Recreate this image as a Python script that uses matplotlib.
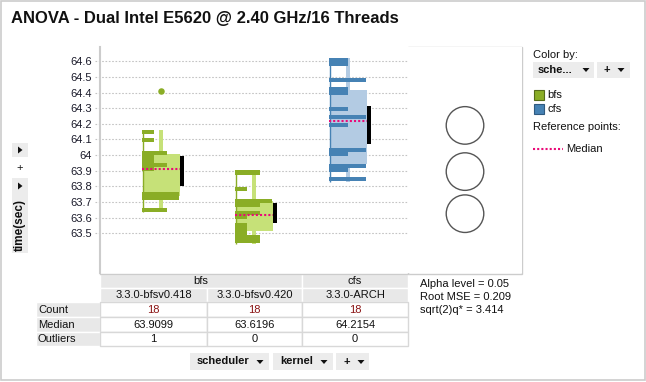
import matplotlib
matplotlib.use("Agg")
import matplotlib.pyplot as plt
from matplotlib.patches import Rectangle, Ellipse, Polygon
import numpy as np

plt.rcParams['font.family'] = ['Liberation Sans', 'DejaVu Sans']

W, H = 646, 382

title = "ANOVA - Dual Intel E5620 @ 2.40 GHz/16 Threads"
schedulers = ["bfs", "bfs", "cfs"]
kernels = ["3.3.0-bfsv0.418", "3.3.0-bfsv0.420", "3.3.0-ARCH"]
counts = [18, 18, 18]
medians = [63.9099, 63.6196, 64.2154]
n_outliers = [1, 0, 0]
outliers = [[64.408], [], []]

# histogram: bin centres and counts per kernel
hist_values = [
    [64.148, 64.097, 64.014, 63.989, 63.963, 63.937, 63.912, 63.752, 63.727, 63.650],
    [63.889, 63.784, 63.707, 63.682, 63.631, 63.605, 63.554, 63.528, 63.503, 63.477, 63.452],
    [64.608, 64.583, 64.481, 64.423, 64.397, 64.295, 64.244, 64.193, 64.033, 64.008,
     63.931, 63.905, 63.848],
]
hist_counts = [
    [1, 1, 2, 1, 1, 2, 1, 3, 3, 2],
    [2, 1, 3, 2, 2, 1, 1, 1, 1, 2, 2],
    [1, 1, 2, 1, 1, 1, 2, 1, 2, 1, 2, 1, 2],
]
bin_width = 0.0265
q1 = [63.739, 63.516, 63.944]
q3 = [64.008, 63.707, 64.417]
whisk_lo = [63.637, 63.433, 63.829]
whisk_hi = [64.161, 63.905, 64.621]
ci_lo = [63.803, 63.567, 64.072]
ci_hi = [63.995, 63.695, 64.314]
circle_centers = [63.895, 63.626, 64.19]
circle_radius = [0.12, 0.12, 0.12]
alpha_level = 0.05
root_mse = 0.209
q_star = 3.414
yticks = [63.5, 63.6, 63.7, 63.8, 63.9, 64.0, 64.1, 64.2, 64.3, 64.4, 64.5, 64.6]
ytick_labels = ["63.5", "63.6", "63.7", "63.8", "63.9", "64", "64.1", "64.2", "64.3", "64.4", "64.5", "64.6"]

dark = {"bfs": "#8aad26", "cfs": "#4682b4"}
light = {"bfs": "#c6e178", "cfs": "#b3cbe3"}
median_col = "#ea0a78"
edge = "#cccccc"
fs = 8

group_left = [42, 135, 229]   # layout, px from plot left
ylim = (63.247, 64.691)


def fr(x0, y0, x1, y1):
    return [x0 / W, 1 - y1 / H, (x1 - x0) / W, (y1 - y0) / H]


fig = plt.figure(figsize=(W / 100, H / 100), dpi=100)

# background canvas in pixel coords
bg = fig.add_axes([0, 0, 1, 1], zorder=-1)
bg.set_xlim(0, W)
bg.set_ylim(H, 0)
bg.axis("off")
bg.add_patch(Rectangle((0.5, 0.5), W - 2, H - 2.5, fill=False, ec=edge, lw=1.2))

bg.text(11, 18, title, fontsize=12, fontweight="bold", va="center", color="#111111")


def tri_right(x, y):
    bg.add_patch(Polygon([(x - 2, y - 3.5), (x - 2, y + 3.5), (x + 2.5, y)], color="#111111", lw=0))


def tri_down(x, y):
    bg.add_patch(Polygon([(x - 3.5, y - 2), (x + 3.5, y - 2), (x, y + 2)], color="#111111", lw=0))


# left controls
bg.add_patch(Rectangle((12, 143), 16, 14, color="#ececec", lw=0))
tri_right(20, 150)
bg.text(20, 168, "+", fontsize=fs, ha="center", va="center", color="#111111")
bg.add_patch(Rectangle((12, 178), 16, 75, color="#ececec", lw=0))
tri_right(20, 186)
bg.text(20, 225, "time(sec)", fontsize=8.5, fontweight="bold", rotation=90,
        ha="center", va="center", color="#111111")

# main plot
ax = fig.add_axes(fr(100, 47, 408, 273))
ax.set_xlim(0, 308)
ax.set_ylim(*ylim)
for s in ["top", "right", "bottom"]:
    ax.spines[s].set_visible(False)
ax.spines["left"].set_color(edge)
ax.spines["left"].set_linewidth(1.5)
ax.set_xticks([])
ax.set_yticks(yticks)
ax.set_yticklabels(ytick_labels)
ax.tick_params(axis="y", length=0, pad=6, labelsize=fs, labelcolor="#1a1a2a")
ax.hlines(yticks, -5, 308, colors="#c4c4c4", linestyles=(0, (1.5, 1.5)), lw=0.8,
          clip_on=False, zorder=0)

for i in range(3):
    gl = group_left[i]
    sch = schedulers[i]
    scale = 37 / max(hist_counts[i])
    ax.add_patch(Rectangle((gl + 17, whisk_lo[i]), 4, whisk_hi[i] - whisk_lo[i],
                           color=light[sch], lw=0, zorder=2, antialiased=False))
    ax.add_patch(Rectangle((gl + 1, q1[i]), 37, q3[i] - q1[i], color=light[sch], lw=0, zorder=2,
                           antialiased=False))
    ax.barh(hist_values[i], np.array(hist_counts[i]) * scale, height=bin_width, left=gl,
            color=dark[sch], lw=0, zorder=3, antialiased=False)
    ax.vlines(gl + 0.5, whisk_lo[i], whisk_hi[i], color=dark[sch], lw=1, zorder=3)
    ax.add_patch(Rectangle((gl + 38, ci_lo[i]), 4, ci_hi[i] - ci_lo[i], color="black", lw=0, zorder=3,
                           antialiased=False))
    ax.hlines(medians[i], gl, gl + 38, color=median_col, lw=1.5, linestyles=(0, (1, 1)), zorder=4)
    if outliers[i]:
        ax.scatter([gl + 19] * len(outliers[i]), outliers[i], s=22, color=dark[sch], lw=0, zorder=4)

# comparison circles
axc = fig.add_axes(fr(408, 47, 522, 273))
axc.set_xlim(0, 1)
axc.set_ylim(*ylim)
axc.set_xticks([])
axc.set_yticks([])
for s in axc.spines.values():
    s.set_visible(False)
ratio = (226 / (ylim[1] - ylim[0])) / 114
for c, r in zip(circle_centers, circle_radius):
    axc.add_patch(Ellipse((0.5, c), 2 * r * ratio, 2 * r, fill=False, ec="#555555", lw=1))
bg.add_patch(Rectangle((408, 47), 114, 227, fill=False, ec=edge, lw=1))

# right panel
bg.text(533, 55, "Color by:", fontsize=fs, va="center", color="#111111")
bg.add_patch(Rectangle((533, 62), 61, 16, color="#ececec", lw=0))
bg.text(538, 70, "sche...", fontsize=fs, fontweight="bold", va="center", color="#111111")
tri_down(586, 70)
bg.add_patch(Rectangle((597, 62), 33, 16, color="#ececec", lw=0))
bg.text(603, 70, "+", fontsize=fs, fontweight="bold", va="center", color="#111111")
tri_down(621, 70)
for k, name in enumerate(["bfs", "cfs"]):
    y0 = 90 + 14 * k
    bg.add_patch(Rectangle((533.5, y0), 10, 10, fc=dark[name], ec="#556b1a" if name == "bfs" else "#2f5a80", lw=0.8))
    bg.text(547, y0 + 5, name, fontsize=fs, va="center", color="#111111")
bg.text(533, 127, "Reference points:", fontsize=fs, va="center", color="#111111")
bg.plot([533, 563], [149, 149], color=median_col, lw=1.5, ls=(0, (1, 1)))
bg.text(566, 149, "Median", fontsize=fs, va="center", color="#111111")

# stats
bg.text(420, 284, "Alpha level = %.2f" % alpha_level, fontsize=fs, va="center", color="#111111")
bg.text(420, 297, "Root MSE = %.3f" % root_mse, fontsize=fs, va="center", color="#111111")
bg.text(420, 310, "sqrt(2)q* = %.3f" % q_star, fontsize=fs, va="center", color="#111111")

# table
col_x = [100, 207, 302, 408]
row_y = [274, 288, 302, 317, 332, 346]
hdr = "#e8e8e8"
bg.plot([100, 408], [273.5, 273.5], color=edge, lw=1)
# scheduler header spans
start = 0
for j in range(1, 4):
    if j == 3 or schedulers[j] != schedulers[start]:
        x0, x1 = col_x[start], col_x[j]
        bg.add_patch(Rectangle((x0, row_y[0]), x1 - x0, 14, fc=hdr, ec="white", lw=1))
        bg.text((x0 + x1) / 2, row_y[0] + 7.5, schedulers[start], fontsize=fs,
                ha="center", va="center", color="#111111")
        start = j
for j in range(3):
    x0, x1 = col_x[j], col_x[j + 1]
    bg.add_patch(Rectangle((x0, row_y[1]), x1 - x0, 14, fc=hdr, ec="white", lw=1))
    bg.text((x0 + x1) / 2, row_y[1] + 7.5, kernels[j], fontsize=fs,
            ha="center", va="center", color="#111111")
rows = [("Count", [str(v) for v in counts], "#8b1515"),
        ("Median", ["%.4f" % v for v in medians], "#111111"),
        ("Outliers", [str(v) for v in n_outliers], "#111111")]
for r, (label, vals, col) in enumerate(rows):
    y0, y1 = row_y[r + 2], row_y[r + 3]
    bg.add_patch(Rectangle((36, y0), 64, y1 - y0, fc=hdr, ec="white", lw=1))
    bg.text(38, (y0 + y1) / 2 + 0.5, label, fontsize=fs, va="center", color="#111111")
    for j in range(3):
        x0, x1 = col_x[j], col_x[j + 1]
        bg.add_patch(Rectangle((x0, y0), x1 - x0, y1 - y0, fc="white", ec="#d8d8d8", lw=1))
        bg.text((x0 + x1) / 2, (y0 + y1) / 2 + 0.5, vals[j], fontsize=fs,
                ha="center", va="center", color=col)

# bottom controls
for x0, x1, lab, tx in [(190, 269, "scheduler", 260), (273, 333, "kernel", 324), (336, 369, "+", 361)]:
    bg.add_patch(Rectangle((x0, 353), x1 - x0, 17, color="#ececec", lw=0))
    bg.text(x0 + 7, 361.5, lab, fontsize=fs, fontweight="bold", va="center", color="#111111")
    tri_down(tx, 362)

fig.savefig("out.png", dpi=100)
